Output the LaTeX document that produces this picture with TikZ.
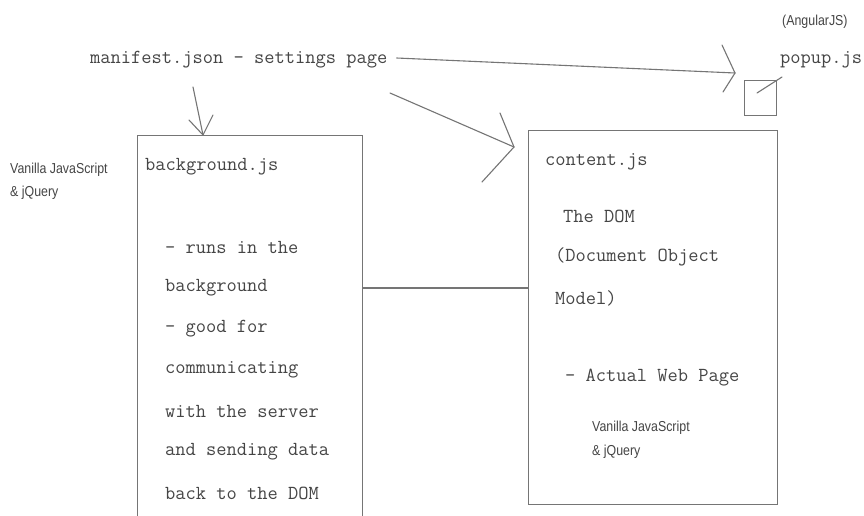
\documentclass[tikz,border=0pt]{standalone}
\usepackage{fontspec}
\newfontfamily\labfont[FakeStretch=0.86]{Liberation Sans}
\definecolor{txt}{HTML}{454545}
\definecolor{lc}{HTML}{757575}
\begin{document}
\begin{tikzpicture}[x=1pt,y=-1pt,
  mono/.style={font=\ttfamily\fontsize{19.9}{22}\selectfont, text=txt, anchor=west, inner sep=0pt},
  lab/.style={font=\labfont\fontsize{14.4}{16}\selectfont, text=txt, anchor=west, inner sep=0pt},
  ln/.style={draw=lc, line width=1.1pt, line cap=round},
  boxst/.style={draw=lc, line width=1.1pt, anchor=north west, inner sep=0pt}]
\useasboundingbox (0,0) rectangle (864,515);
\fill[white] (0,0) rectangle (864,515);
\clip (0,0) rectangle (864,515);

% boxes
\node[boxst, minimum width=225pt, minimum height=400pt] (bg) at (137,135) {};
\node[boxst, minimum width=249pt, minimum height=374pt] (content) at (528,130) {};
\node[boxst, minimum width=32pt, minimum height=35pt] (sq) at (744,80) {};

% top texts
\node[mono] (manifest) at (90,60) {manifest.json - settings page};
\node[mono] (popup) at (780,60) {popup.js};
\node[lab] (angular) at (782,22) {(AngularJS)};
\node[lab] (vl1) at (10,170) {Vanilla JavaScript};
\node[lab] (vl2) at (10,193) {\&\ jQuery};

% background box texts
\node[mono] (bgt) at (145,167) {background.js};
\node[mono] (b1) at (165,247) {- runs in the};
\node[mono] (b2) at (165,288) {background};
\node[mono] (b3) at (165,329) {- good for};
\node[mono] (b4) at (165,370) {communicating};
\node[mono] (b5) at (165,411) {with the server};
\node[mono] (b6) at (165,452) {and sending data};
\node[mono] (b7) at (165,493) {back to the DOM};

% content box texts
\node[mono] (ct) at (545,162) {content.js};
\node[mono] (c1) at (563,216) {The DOM};
\node[mono] (c2) at (555,257) {(Document Object};
\node[mono] (c3) at (555,298) {Model)};
\node[mono] (c4) at (565,378) {- Actual Web Page};
\node[lab] (cv1) at (592,428) {Vanilla JavaScript};
\node[lab] (cv2) at (592,452) {\&\ jQuery};

% arrow to popup
\coordinate (t1) at (735,73);
\draw[ln] ([xshift=9pt,yshift=2pt]manifest.east) -- (t1);
\draw[ln] (t1) -- ++(-13,-28);
\draw[ln] (t1) -- ++(-12,19);

% arrow to background
\coordinate (t2) at (bg.north -| 203,0);
\draw[ln] (193,87) -- (t2);
\draw[ln] (t2) -- ++(-14,-15);
\draw[ln] (t2) -- ++(10,-20);

% arrow to content
\coordinate (t3) at (514,147);
\draw[ln] (390,93) -- (t3);
\draw[ln] (t3) -- ++(-14,-34);
\draw[ln] (t3) -- ++(-32,35);

% popup icon line
\draw[ln] (757,93) -- (782,77);

% link between boxes
\coordinate (mid) at (0,288);
\draw[ln] (bg.east |- mid) -- (content.west |- mid);
\end{tikzpicture}
\end{document}
